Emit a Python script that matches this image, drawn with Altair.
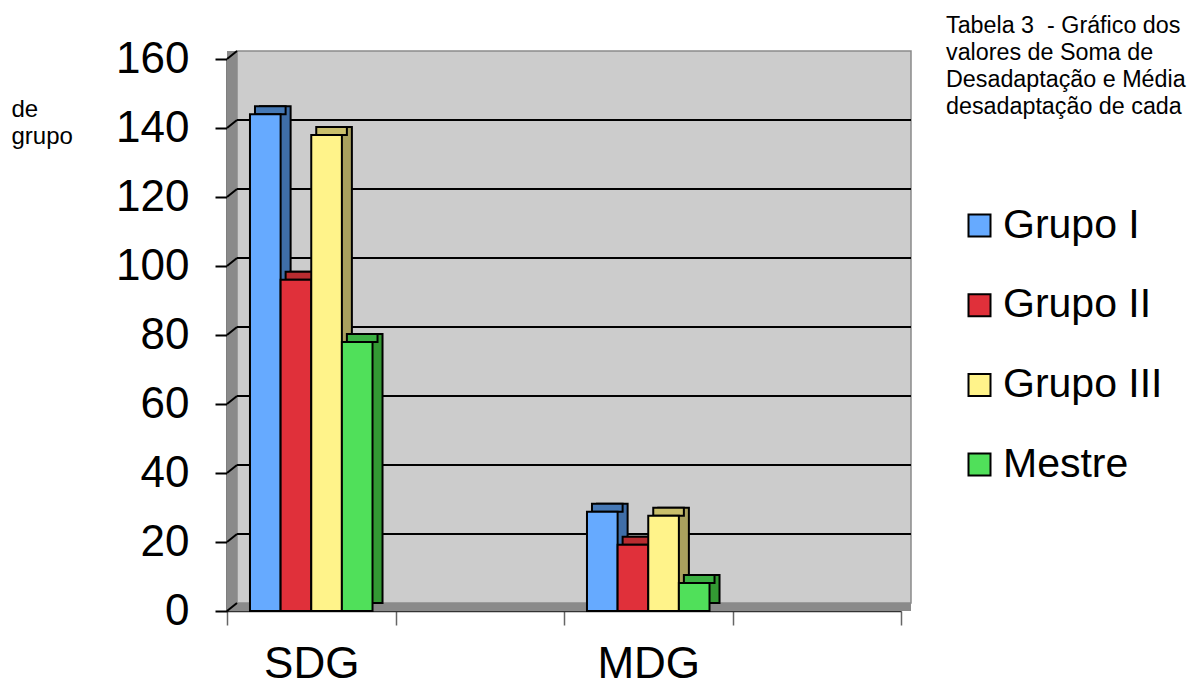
import altair as alt
import pandas as pd

# ---- data ----
categories = ["SDG", "MDG"]
groups = ["Grupo I", "Grupo II", "Grupo III", "Mestre"]
sdg_values = [144, 96, 138, 78]
mdg_values = [28.8, 19.2, 27.6, 8.1]
y_ticks = [0, 20, 40, 60, 80, 100, 120, 140, 160]
x_slots = ["SDG", "_gap1", "MDG", "_gap2"]
title_lines = ["Tabela 3\u00a0 - Gráfico dos", "valores de Soma de",
               "Desadaptação e Média", "desadaptação de cada"]
left_lines = ["de", "grupo"]

# ---- styles ----
front_colors = ["#66aaff", "#e0303a", "#fff38a", "#50e05a"]
side_colors = ["#3f6ea8", "#b02a2a", "#a9a15e", "#339933"]
top_colors = ["#4578b5", "#b82c30", "#c9bf6c", "#3cb043"]

rows = []
for cat, vals in zip(categories, [sdg_values, mdg_values]):
    for g, v, s, t in zip(groups, vals, side_colors, top_colors):
        rows.append({"cat": cat, "grupo": g, "valor": v, "side": s, "top": t})
df = pd.DataFrame(rows)
grid_df = pd.DataFrame({"v": [t for t in y_ticks if 0 < t < 160]})
conn_df = pd.DataFrame({"v": y_ticks})
one = pd.DataFrame({"a": [0]})

W, H = 674, 552
DX, DY = 10, -8
FONT = "Liberation Sans"

yscale = alt.Scale(domain=[0, 160], nice=False, zero=True)


def xscale(shift):
    return alt.Scale(domain=x_slots, paddingInner=0, paddingOuter=0,
                     range=[shift, W + shift])


offscale = alt.Scale(domain=groups, paddingInner=0, paddingOuter=0.75)

x_axis = alt.Axis(title=None, labelAngle=0, labelFontSize=44, labelFont=FONT,
                  labelColor="black", labelPadding=17, tickSize=14,
                  tickColor="#666666", tickWidth=1.5, tickBand="extent",
                  domainColor="#333333", domainWidth=1.5,
                  labelExpr="slice(datum.label,0,1) == '_' ? '' : datum.label")
y_axis = alt.Axis(title=None, values=y_ticks, labelFontSize=44, labelFont=FONT,
                  labelColor="black", labelPadding=26, tickSize=12,
                  tickColor="black", tickWidth=2, domainColor="black",
                  domainWidth=2, grid=False)

# walls
floor_left = alt.Chart(one).mark_rect(color="#8a8a8a").encode(
    x=alt.value(0), x2=alt.value(DX), y=alt.value(DY), y2=alt.value(H))
floor = alt.Chart(one).mark_rect(color="#8a8a8a").encode(
    x=alt.value(0), x2=alt.value(W + DX), y=alt.value(H + DY), y2=alt.value(H))
back = alt.Chart(one).mark_rect(color="#cccccc", stroke="#8a8a8a", strokeWidth=1.5).encode(
    x=alt.value(DX), x2=alt.value(W + DX), y=alt.value(DY), y2=alt.value(H + DY))

grid = alt.Chart(grid_df).mark_rule(color="black", strokeWidth=2, yOffset=DY).encode(
    y=alt.Y("v:Q", scale=yscale, axis=y_axis),
    x=alt.value(DX), x2=alt.value(W + DX))
conn = alt.Chart(conn_df).mark_rule(color="black", strokeWidth=2, y2Offset=DY).encode(
    y=alt.Y("v:Q", scale=yscale, axis=y_axis), y2=alt.Y2("v"),
    x=alt.value(0), x2=alt.value(DX))

base = alt.Chart(df)
bar_back = base.mark_bar(stroke="black", strokeWidth=2, yOffset=DY, y2Offset=DY).encode(
    x=alt.X("cat:N", scale=xscale(DX), axis=None),
    xOffset=alt.XOffset("grupo:N", scale=offscale),
    y=alt.Y("valor:Q", scale=yscale, axis=y_axis),
    color=alt.Color("side:N", scale=None))
bar_top = base.mark_bar(stroke="black", strokeWidth=2, yOffset=DY).encode(
    x=alt.X("cat:N", scale=xscale(DX / 2), axis=None),
    xOffset=alt.XOffset("grupo:N", scale=offscale),
    y=alt.Y("valor:Q", scale=yscale, axis=y_axis), y2=alt.Y2("valor"),
    color=alt.Color("top:N", scale=None))
bar_front = base.mark_bar(stroke="black", strokeWidth=2, opacity=1).encode(
    x=alt.X("cat:N", scale=xscale(0), axis=x_axis),
    xOffset=alt.XOffset("grupo:N", scale=offscale),
    y=alt.Y("valor:Q", scale=yscale, axis=y_axis),
    color=alt.Color("grupo:N", scale=alt.Scale(domain=groups, range=front_colors),
                    legend=alt.Legend(title=None, orient="none", legendX=732, legendY=146,
                                      symbolType="square", symbolSize=484,
                                      symbolStrokeColor="black", symbolStrokeWidth=2,
                                      symbolOpacity=1,
                                      labelFontSize=41, labelFont=FONT, labelColor="black",
                                      labelOffset=3, rowPadding=37.7, padding=0,
                                      labelLimit=400)))

title_txt = alt.Chart(one).mark_text(align="left", baseline="alphabetic", fontSize=23.3,
                                     font=FONT, lineHeight=27, color="black").encode(
    x=alt.value(719), y=alt.value(-26), text=alt.value(title_lines))
left_txt = alt.Chart(one).mark_text(align="left", baseline="alphabetic", fontSize=24,
                                    font=FONT, lineHeight=27, color="black").encode(
    x=alt.value(-215.5), y=alt.value(58), text=alt.value(left_lines))

chart = alt.layer(floor_left, floor, back, grid, conn, bar_back, bar_top, bar_front,
                  title_txt, left_txt).resolve_scale(
    x="independent", xOffset="independent"
).properties(
    width=W, height=H,
    autosize=alt.AutoSizeParams(type="none"),
    padding={"left": 219, "top": 51, "right": 290, "bottom": 84},
).configure_view(stroke=None).configure(background="white")

chart.save("out.html", embed_options={"renderer": "svg", "actions": False})
